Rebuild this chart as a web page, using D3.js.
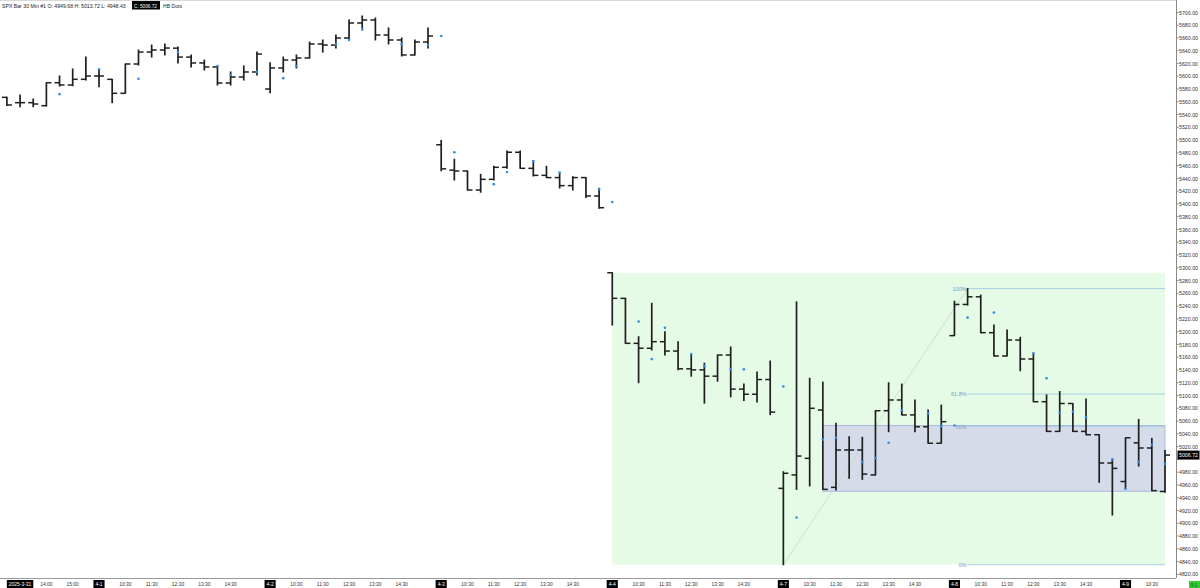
<!DOCTYPE html>
<html><head><meta charset="utf-8">
<script src="https://cdn.jsdelivr.net/npm/d3@7"></script>
<style>
body{margin:0;background:#fff;overflow:hidden}
svg{display:block}
text{font-family:"Liberation Sans",Arial,sans-serif}
</style>
</head><body>
<svg id="c" width="1200" height="588"></svg>
<script>
// ---------------- DATA ----------------
const days = ["2025-3-31","4-1","4-2","4-3","4-4","4-7","4-8","4-9"];
const firstDayTimes = ["12:30","13:00","13:30","14:00","14:30","15:00","15:30"];
const fullDayTimes = ["9:30","10:00","10:30","11:00","11:30","12:00","12:30","13:00","13:30","14:00","14:30","15:00","15:30"];
const lastDayTimes = ["9:30","10:00","10:30","11:00"];

const open = [
 5567,5558.6,5558.6,5553.9,5589.9,5586.3,5595.2,
 5600.4,5595.2,5573.3,5619.2,5637.9,5641.1,5644,5630,5620.8,5614.5,5589.4,5598.8,5606.7,
 5580,5613,5625.4,5628.6,5650.5,5648.9,5659.9,5683.4,5688.1,5664.6,5656.8,5633.3,5653.6,
 5492.7,5453,5451.6,5421.8,5438.6,5457.4,5481,5455.8,5444.8,5441.3,5428.7,5441.3,5412.5,
 5292.3,5252.2,5181.7,5174,5184.3,5169.6,5141.8,5140.2,5130.3,5163.4,5110,5102,5125,
 4954.6,4975.6,5001.6,5077.3,4956.2,5014.7,5014.7,4975.6,5076.2,5093,5069.6,5051.1,5025.2,
 5193.8,5242.6,5254.6,5198.4,5161.9,5186.9,5157.2,5090.3,5043.8,5087.5,5043.8,5038.6,4994.3,
 4965.3,5025.9,5017.8,4949.68];
const high = [
 5567,5570.6,5564.4,5589.9,5600.4,5611.4,5630.1,
 5609.8,5595.2,5619.2,5641.1,5648.9,5650.5,5646,5633.3,5625.4,5616,5606.7,5616.1,5637.9,
 5621,5630.1,5633.3,5653.6,5656.8,5664.6,5688.1,5694.4,5691.2,5675.6,5659.9,5656.8,5675.6,
 5499.5,5470,5451.6,5446.4,5459,5483,5483,5468,5459,5449,5442.7,5441.3,5424.5,
 5292.3,5252.2,5192.1,5244.4,5199.8,5184.3,5163.4,5150.7,5163.4,5176,5118,5137,5154,
 4980.7,5246.6,5127,5121,5056.4,5035.5,5034.5,5076.2,5120,5118,5093,5077.3,5085.1,
 5247.8,5267.5,5257.3,5210.4,5202.6,5191.1,5166.1,5101,5106.3,5087.5,5094.6,5038.6,4999.9,
 5033.8,5062.6,5032.8,5013.72];
const low = [
 5554,5552.3,5552.3,5553.4,5584.7,5585.2,5594.1,
 5583.6,5558.6,5573.3,5617.6,5630.1,5633.3,5620.8,5614.5,5609.8,5586.3,5586.3,5594.1,5602,
 5574,5606.7,5612.9,5628.6,5637.9,5644.2,5656.8,5672.4,5656.8,5650.5,5631.7,5633.3,5644.2,
 5452,5437.5,5421.8,5418.4,5437.5,5455.8,5455.8,5443.8,5441.3,5425,5421.9,5410,5393.3,
 5210.4,5181.7,5120.1,5171.3,5163.4,5140.2,5130.3,5088,5122.4,5098,5092,5090,5070,
 4835,4953,4958.3,4953,4952,4970.3,4968.7,4975.6,5043.3,5069.6,5043.3,5025.2,5025.2,
 5193.8,5241.7,5198.4,5161.9,5161.9,5138.8,5090.3,5043.8,5043.8,5043.8,5038.6,4964,4912.8,
 4953.5,4989.6,4951,4948.43];
const close = [
 5555,5558.6,5556.5,5589.9,5586.3,5595.2,5600.4,
 5600.4,5573.3,5619.2,5637.9,5641.1,5644.2,5630,5620.8,5614.5,5589.4,5598.8,5606.7,5634.8,
 5613,5625.4,5628.6,5650.5,5648.9,5659.9,5683.4,5688.1,5664.6,5656.8,5633.3,5653.6,5663,
 5455,5451.6,5421.8,5438.6,5457.4,5481,5455.8,5444.8,5441.3,5428.7,5441.3,5412.5,5394.1,
 5252.2,5181.7,5174,5184.3,5169.6,5141.8,5140.2,5130.3,5163.4,5110,5102,5125,5074,
 4978.2,5005.2,5080,4953,5014.7,5014.7,4977,5076.2,5093,5069.6,5051.1,5025.2,5059,
 5242.6,5254.6,5198.4,5161.9,5186.9,5157.2,5090.3,5043.8,5087.5,5043.8,5038.6,4994.3,4985.9,
 5033.8,5017.8,4951,5006.72];
const hbDots = [
 null,null,null,null,5572,null,null,
 5611,null,null,5596,null,null,5638,null,null,5616,5602,null,5607,
 null,5597,5616,null,null,5650,5657,5674,null,null,5650,null,5649,
 5663,5481,null,null,5431,5450,null,5467,null,5449,null,null,5423,
 5403,null,5216,5157,5206,null,5165,5146,null,5141,5141,null,null,
 5114,4909,null,5031,5034,null,4996,5002,5026,5077,null,5072,5052,
 5053,5222,null,5230,null,null,5166,5127,5073,5075,5066,null,5000,
 4954,4996,5023,4993];

const yTicks = d3.range(4820, 5701, 20);
const fibLow = 4835.04, fibHigh = 5267.47;
const fibLevels = [1, 0.618, 0.5, 0];
const fibLabels = ["100%","61.8%","50%","0%"];
const rangeBoxTop = 5292.14, rangeBoxBottom = 4835.04;
const zoneTop = 5053, zoneBottom = 4950;
const headerTitle = "SPX Bar 30 Min  #1";
const indicatorName = "HB Dots";
const clockLabel = "9:1";

// ---------------- BUILD ----------------
const keys = [];
days.forEach((d,i)=>{
  const ts = i===0 ? firstDayTimes : (i===days.length-1 ? lastDayTimes : fullDayTimes);
  ts.forEach(t=>keys.push(d+" "+t));
});
const bars = keys.map((k,i)=>({k,o:open[i],h:high[i],l:low[i],c:close[i],dot:hbDots[i]}));

const svg = d3.select("#c");
const plotRight = 1176, plotBottom = 578;
const x = d3.scalePoint().domain(keys).range([6.9, 1165]);
const y = d3.scaleLinear().domain([5700, 4820]).range([12.4, 574.3]);
const FS = 6;

svg.append("defs").append("clipPath").attr("id","clip").append("rect")
  .attr("x",0).attr("y",0).attr("width",plotRight).attr("height",plotBottom);
const plot = svg.append("g").attr("clip-path","url(#clip)");

// top border
svg.append("line").attr("x1",0).attr("x2",plotRight).attr("y1",0.5).attr("y2",0.5).attr("stroke","#d8d8d8");

// green range box
const k0 = "4-4 9:30", kLast = keys[keys.length-1];
plot.append("rect").attr("x",x(k0)).attr("y",y(rangeBoxTop))
  .attr("width",x(kLast)-x(k0)).attr("height",y(rangeBoxBottom)-y(rangeBoxTop))
  .attr("fill","#e5fbe5");

// gray zone box
const kz = "4-7 11:00";
plot.append("rect").attr("x",x(kz)).attr("y",y(zoneTop))
  .attr("width",x(kLast)-x(kz)).attr("height",y(zoneBottom)-y(zoneTop))
  .attr("fill","#d6dbe9").attr("stroke","#aeb8de").attr("stroke-width",1);

// fib anchor diagonal
plot.append("line").attr("x1",x("4-7 9:30")).attr("y1",y(fibLow))
  .attr("x2",x("4-8 10:00")).attr("y2",y(fibHigh))
  .attr("stroke","#c4dcc4").attr("stroke-width",0.8);

// fib levels
const kf = "4-8 10:00";
fibLevels.forEach((lv,i)=>{
  const v = fibLow + lv*(fibHigh-fibLow);
  plot.append("line").attr("x1",x(kf)).attr("x2",x(kLast)).attr("y1",y(v)).attr("y2",y(v))
    .attr("stroke","#a6d0e6").attr("stroke-width",1);
  plot.append("text").attr("x",x(kf)-1).attr("y",y(v)+2).attr("text-anchor","end")
    .attr("font-size",5.5).attr("fill","#6f9ad4").text(fibLabels[i]);
});

// OHLC bars
const bc = "#1f1f1f", tw = 5;
const g = plot.append("g");
g.selectAll(".v").data(bars).join("line")
  .attr("x1",d=>x(d.k)).attr("x2",d=>x(d.k))
  .attr("y1",d=>y(d.h)-0.5).attr("y2",d=>y(d.l)+0.5)
  .attr("stroke",bc).attr("stroke-width",1.7);
g.selectAll(".o").data(bars).join("line")
  .attr("x1",d=>x(d.k)-tw).attr("x2",d=>x(d.k))
  .attr("y1",d=>y(d.o)).attr("y2",d=>y(d.o))
  .attr("stroke",bc).attr("stroke-width",1.5);
g.selectAll(".cl").data(bars).join("line")
  .attr("x1",d=>x(d.k)).attr("x2",d=>x(d.k)+tw)
  .attr("y1",d=>y(d.c)).attr("y2",d=>y(d.c))
  .attr("stroke",bc).attr("stroke-width",1.5);

// HB dots
plot.selectAll(".dot").data(bars.filter(d=>d.dot!=null)).join("circle")
  .attr("cx",d=>x(d.k)).attr("cy",d=>y(d.dot)).attr("r",1.3).attr("fill","#2f8de4");

// y axis
svg.append("line").attr("x1",plotRight+0.5).attr("x2",plotRight+0.5).attr("y1",0).attr("y2",plotBottom)
  .attr("stroke","#888");
const ya = svg.append("g");
const last = bars[bars.length-1];
yTicks.forEach(t=>{
  ya.append("line").attr("x1",plotRight+0.5).attr("x2",plotRight+2.5).attr("y1",y(t)).attr("y2",y(t)).attr("stroke","#888");
  if (Math.abs(y(t)-y(last.c)) < 6) return; // hidden behind the price marker
  ya.append("text").attr("x",plotRight+3).attr("y",y(t)+2.1).attr("font-size",FS).attr("fill","#333")
    .attr("textLength",19).attr("lengthAdjust","spacingAndGlyphs").text(t.toFixed(2));
});
// current price marker
ya.append("rect").attr("x",plotRight+1.5).attr("y",y(last.c)-4.5).attr("width",22).attr("height",9).attr("fill","#000");
ya.append("text").attr("x",plotRight+3).attr("y",y(last.c)+2.1).attr("font-size",FS).attr("fill","#fff")
  .attr("textLength",19).attr("lengthAdjust","spacingAndGlyphs").text(last.c.toFixed(2));

// x axis
svg.append("line").attr("x1",0).attr("x2",plotRight).attr("y1",plotBottom+0.5).attr("y2",plotBottom+0.5).attr("stroke","#999");
const xa = svg.append("g");
const xTicks = [];
days.forEach((d,i)=>{
  if(i===0){
    xTicks.push({k:d+" 13:00",t:d,box:true});
    ["14:00","15:00"].forEach(t=>xTicks.push({k:d+" "+t,t,box:false}));
  } else {
    xTicks.push({k:d+" 9:30",t:d,box:true});
    const ts = i===days.length-1 ? ["10:30"] : ["10:30","11:30","12:30","13:30","14:30"];
    ts.forEach(t=>xTicks.push({k:d+" "+t,t,box:false}));
  }
});
xTicks.forEach(tk=>{
  const cx = x(tk.k);
  const tx = xa.append("text").attr("x",cx).attr("y",586).attr("text-anchor","middle")
    .attr("font-size",FS).attr("fill",tk.box?"#fff":"#333").text(tk.t);
  const w0 = tx.node().getComputedTextLength();
  const tl = w0*0.82;
  tx.attr("textLength",tl).attr("lengthAdjust","spacingAndGlyphs");
  if(tk.box){
    const w = tl+4;
    xa.insert("rect","text").attr("x",cx-w/2).attr("y",580).attr("width",w).attr("height",8).attr("fill","#000");
  }
});
xa.append("rect").attr("x",1189).attr("y",581).attr("width",11).attr("height",7).attr("fill","#33cc33");
xa.append("text").attr("x",1190.5).attr("y",586.5).attr("font-size",5).attr("fill","#063").text(clockLabel);

// header (each piece squeezed horizontally to its width in the reference)
const hd = svg.append("g");
function headText(str, x0, width, fill){
  const t = hd.append("text").attr("x",0).attr("y",0).attr("font-size",FS).attr("fill",fill).text(str);
  const w = t.node().getComputedTextLength();
  t.attr("transform",`translate(${x0},7.5) scale(${width/w},1)`);
  return t;
}
const hs = `${headerTitle} O: ${last.o.toFixed(2)} H: ${last.h.toFixed(2)} L: ${last.l.toFixed(2)}`;
hd.append("rect").attr("x",132).attr("y",1).attr("width",28).attr("height",8.5).attr("fill","#000");
headText(hs, 2, 124, "#222");
headText(`C: ${last.c.toFixed(2)}`, 134, 23, "#fff");
headText(indicatorName, 163, 19, "#222");
</script>
</body></html>
